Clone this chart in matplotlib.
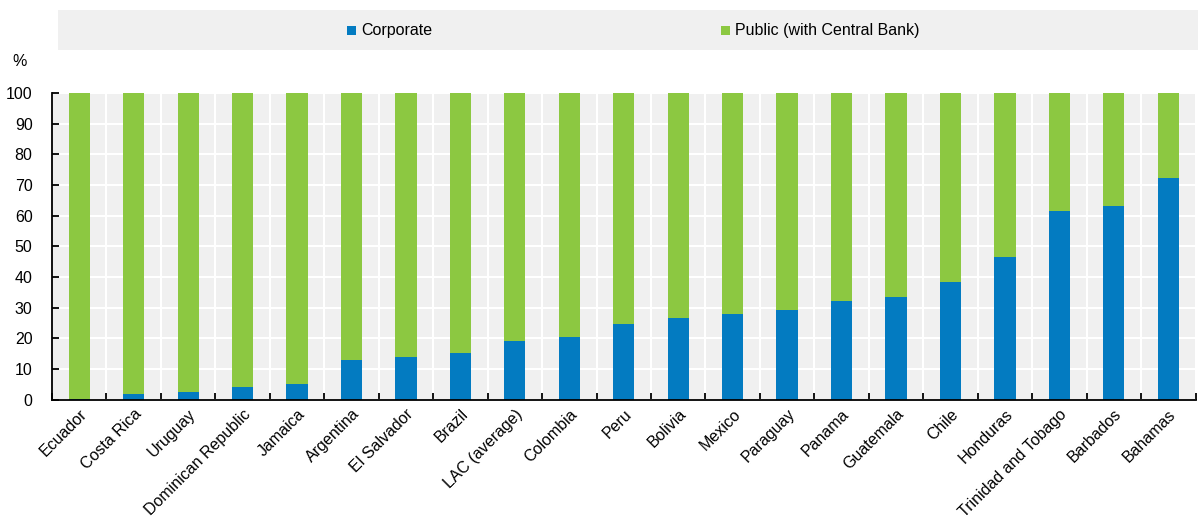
import matplotlib
matplotlib.use("Agg")
import matplotlib.pyplot as plt
from matplotlib.patches import Rectangle
from matplotlib.ticker import MultipleLocator, FixedLocator

countries = ["Ecuador", "Costa Rica", "Uruguay", "Dominican Republic", "Jamaica",
             "Argentina", "El Salvador", "Brazil", "LAC (average)", "Colombia",
             "Peru", "Bolivia", "Mexico", "Paraguay", "Panama", "Guatemala",
             "Chile", "Honduras", "Trinidad and Tobago", "Barbados", "Bahamas"]
corporate = [0.3, 1.7, 2.4, 4.2, 5.2, 13.0, 13.8, 15.1, 19.2, 20.3,
             24.6, 26.6, 28.0, 29.2, 32.1, 33.5, 38.4, 46.4, 61.6, 63.2, 72.4]
public = [100 - c for c in corporate]
series_names = ["Corporate", "Public (with Central Bank)"]

BLUE = "#037bc1"
GREEN = "#8cc841"
GREY = "#f0f0f0"

plt.rcParams["font.family"] = ["Liberation Sans", "DejaVu Sans"]
FS = 11.5

W, H = 1200, 518
fig = plt.figure(figsize=(W / 100, H / 100), dpi=100)

x0, x1, y0, y1 = 52, 1195.5, 399.5, 93
ax = fig.add_axes([x0 / W, 1 - y0 / H, (x1 - x0) / W, (y0 - y1) / H])
ax.set_facecolor(GREY)

pos = list(range(len(countries)))
ax.bar(pos, corporate, width=0.39, color=BLUE, zorder=3)
ax.bar(pos, public, width=0.39, bottom=corporate, color=GREEN, zorder=3)

ax.set_xlim(-0.5, len(countries) - 0.5)
ax.set_ylim(0, 100)
ax.yaxis.set_major_locator(MultipleLocator(10))
ax.set_xticks(pos)
ax.set_xticklabels(countries, rotation=45, ha="right", va="top",
                   rotation_mode="anchor", fontsize=FS)
ax.xaxis.set_minor_locator(FixedLocator([p + 0.5 for p in pos[:-1]] + [-0.5, len(pos) - 0.5]))
ax.tick_params(axis="x", which="major", length=0, pad=5)
ax.tick_params(axis="x", which="minor", direction="in", length=5, width=1.3, color="black")
ax.tick_params(axis="y", direction="in", length=5, width=1.3, labelsize=FS, pad=14)

ax.grid(True, axis="y", which="major", color="white", linewidth=1.5, zorder=1)
ax.grid(True, axis="x", which="minor", color="white", linewidth=1.5, zorder=1)
ax.set_axisbelow(True)
for side in ("top", "right"):
    ax.spines[side].set_visible(False)
for side in ("left", "bottom"):
    ax.spines[side].set_linewidth(1.3)
    ax.spines[side].set_zorder(4)

fig.text(20 / W, 1 - 62 / H, "%", fontsize=FS, ha="center", va="center")

# legend band across the top
fig.add_artist(Rectangle((58 / W, 1 - 50 / H), (1198 - 58) / W, 40 / H,
                         transform=fig.transFigure, facecolor=GREY, edgecolor="none"))
for name, color, mx in zip(series_names, [BLUE, GREEN], [347, 721]):
    fig.add_artist(Rectangle((mx / W, 1 - 34.5 / H), 9 / W, 9 / H,
                             transform=fig.transFigure, facecolor=color, edgecolor="none"))
    fig.text((mx + 14) / W, 1 - 30 / H, name, fontsize=FS, ha="left", va="center")

fig.savefig("out.png", dpi=100)
